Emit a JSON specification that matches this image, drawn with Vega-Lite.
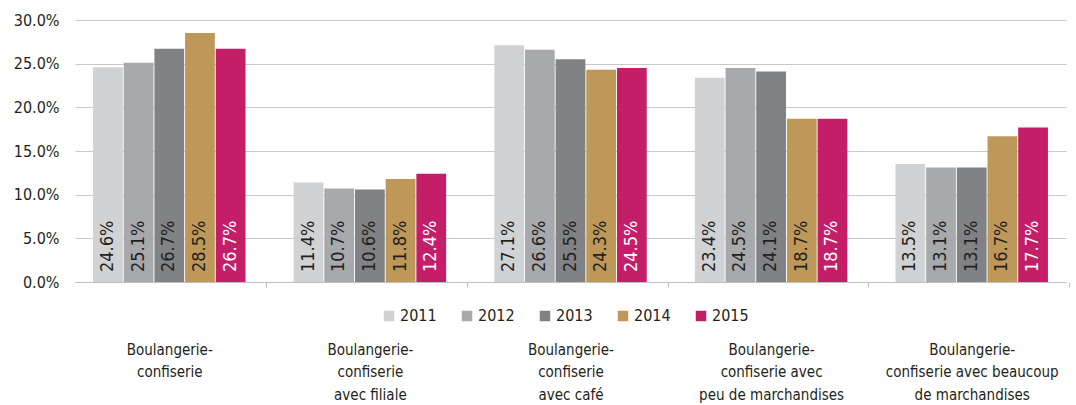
{
  "$schema": "https://vega.github.io/schema/vega-lite/v6.json",
  "width": 991,
  "height": 262,
  "autosize": {"type": "none"},
  "padding": {"left": 75, "top": 20, "right": 10, "bottom": 123},
  "background": "white",
  "config": {
    "view": {"stroke": null},
    "font": "Liberation Sans Narrow, DejaVu Sans Condensed, Roboto",
    "text": {"font": "Liberation Sans Narrow, DejaVu Sans Condensed, Roboto"}
  },
  "data": {
    "values": [
      {"cat": "Boulangerie-confiserie", "year": "2011", "v": 0.246},
      {"cat": "Boulangerie-confiserie", "year": "2012", "v": 0.251},
      {"cat": "Boulangerie-confiserie", "year": "2013", "v": 0.267},
      {"cat": "Boulangerie-confiserie", "year": "2014", "v": 0.285},
      {"cat": "Boulangerie-confiserie", "year": "2015", "v": 0.267},
      {"cat": "Boulangerie-confiserie avec filiale", "year": "2011", "v": 0.114},
      {"cat": "Boulangerie-confiserie avec filiale", "year": "2012", "v": 0.107},
      {"cat": "Boulangerie-confiserie avec filiale", "year": "2013", "v": 0.106},
      {"cat": "Boulangerie-confiserie avec filiale", "year": "2014", "v": 0.118},
      {"cat": "Boulangerie-confiserie avec filiale", "year": "2015", "v": 0.124},
      {"cat": "Boulangerie-confiserie avec café", "year": "2011", "v": 0.271},
      {"cat": "Boulangerie-confiserie avec café", "year": "2012", "v": 0.266},
      {"cat": "Boulangerie-confiserie avec café", "year": "2013", "v": 0.255},
      {"cat": "Boulangerie-confiserie avec café", "year": "2014", "v": 0.243},
      {"cat": "Boulangerie-confiserie avec café", "year": "2015", "v": 0.245},
      {"cat": "Boulangerie-confiserie avec peu de marchandises", "year": "2011", "v": 0.234},
      {"cat": "Boulangerie-confiserie avec peu de marchandises", "year": "2012", "v": 0.245},
      {"cat": "Boulangerie-confiserie avec peu de marchandises", "year": "2013", "v": 0.241},
      {"cat": "Boulangerie-confiserie avec peu de marchandises", "year": "2014", "v": 0.187},
      {"cat": "Boulangerie-confiserie avec peu de marchandises", "year": "2015", "v": 0.187},
      {"cat": "Boulangerie-confiserie avec beaucoup de marchandises", "year": "2011", "v": 0.135},
      {"cat": "Boulangerie-confiserie avec beaucoup de marchandises", "year": "2012", "v": 0.131},
      {"cat": "Boulangerie-confiserie avec beaucoup de marchandises", "year": "2013", "v": 0.131},
      {"cat": "Boulangerie-confiserie avec beaucoup de marchandises", "year": "2014", "v": 0.167},
      {"cat": "Boulangerie-confiserie avec beaucoup de marchandises", "year": "2015", "v": 0.177}
    ]
  },
  "encoding": {
    "x": {
      "field": "cat",
      "type": "nominal",
      "sort": null,
      "scale": {"paddingInner": 0.24, "paddingOuter": 0.09},
      "axis": {
        "title": null,
        "labelAngle": 0,
        "domainColor": "#bfbfbf",
        "tickColor": "#bfbfbf",
        "tickOffset": 97,
        "labelOffset": -97,
        "tickSize": 5,
        "labelPadding": 55,
        "labelFontSize": 15,
        "labelColor": "#231f20",
        "labelLineHeight": 22.5,
        "labelLimit": 300,
        "labelExpr": "datum.label == 'Boulangerie-confiserie' ? ['Boulangerie-', 'confiserie'] : datum.label == 'Boulangerie-confiserie avec filiale' ? ['Boulangerie-', 'confiserie', 'avec filiale'] : datum.label == 'Boulangerie-confiserie avec café' ? ['Boulangerie-', 'confiserie', 'avec café'] : datum.label == 'Boulangerie-confiserie avec peu de marchandises' ? ['Boulangerie-', 'confiserie avec', 'peu de marchandises'] : datum.label == 'Boulangerie-confiserie avec beaucoup de marchandises' ? ['Boulangerie-', 'confiserie avec beaucoup', 'de marchandises'] : ''"
      }
    },
    "xOffset": {"field": "year", "type": "nominal", "scale": {"paddingInner": 0.03}}
  },
  "layer": [
    {
      "mark": {"type": "bar"},
      "encoding": {
        "y": {
          "field": "v",
          "type": "quantitative",
          "scale": {"domain": [0, 0.3]},
          "axis": {
            "title": null,
            "format": ".1%",
            "values": [0, 0.05, 0.1, 0.15, 0.2, 0.25, 0.3],
            "labelOverlap": false,
            "domain": false,
            "ticks": false,
            "gridColor": "#c8c8c8",
            "labelFontSize": 16,
            "labelColor": "#231f20",
            "labelPadding": 16
          }
        },
        "color": {
          "field": "year",
          "type": "nominal",
          "scale": {"domain": ["2011", "2012", "2013", "2014", "2015"], "range": ["#d1d2d4", "#a7a9ac", "#808285", "#bd9859", "#c41e69"]},
          "legend": {
            "title": null,
            "orient": "none",
            "direction": "horizontal",
            "columns": 5,
            "legendX": 306,
            "legendY": 288,
            "padding": 0,
            "symbolType": "square",
            "symbolSize": 110,
            "symbolStrokeWidth": 0,
            "labelFontSize": 16,
            "labelColor": "#231f20",
            "labelOffset": 3,
            "columnPadding": 22
          }
        }
      }
    },
    {
      "mark": {"type": "text", "angle": 270, "align": "left", "baseline": "middle", "dx": 10, "fontSize": 18},
      "encoding": {
        "y": {"datum": 0, "type": "quantitative"},
        "text": {"field": "v", "type": "quantitative", "format": ".1%"},
        "color": {
          "condition": {"test": "datum.year == '2015'", "value": "white"},
          "value": "#231f20"
        }
      }
    }
  ]
}
